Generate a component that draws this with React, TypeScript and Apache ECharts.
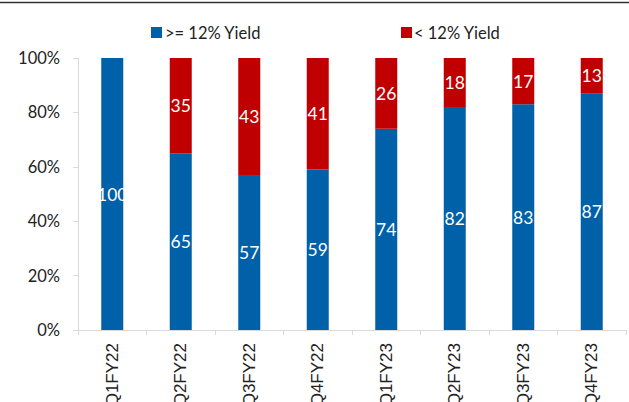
import React, { useEffect, useRef } from "react";
import * as echarts from "echarts";

const categories = ["Q1FY22", "Q2FY22", "Q3FY22", "Q4FY22", "Q1FY23", "Q2FY23", "Q3FY23", "Q4FY23"];
const highYield = [100, 65, 57, 59, 74, 82, 83, 87];
const lowYield = [0, 35, 43, 41, 26, 18, 17, 13];
const seriesNames = [">= 12% Yield", "< 12% Yield"];
const yTicks = [0, 20, 40, 60, 80, 100];

export default function App() {
  const ref = useRef<HTMLDivElement>(null);
  useEffect(() => {
    if (!ref.current) return;
    const chart = echarts.init(ref.current, undefined, { renderer: "svg" });
    const labelStyle = {
      show: true,
      position: "inside",
      color: "#ffffff",
      fontFamily: "Lato",
      fontSize: 17.5,
      formatter: (p: any) => (p.value > 0 ? String(p.value) : ""),
    };
    chart.setOption({
      animation: false,
      backgroundColor: "#ffffff",
      graphic: [
        {
          type: "line",
          shape: { x1: 0, y1: 2.5, x2: 629, y2: 2.5 },
          style: { stroke: "#333333", lineWidth: 1.5 },
        },
      ],
      legend: [
        {
          data: [seriesNames[0]],
          left: 146,
          top: 19,
          itemWidth: 11,
          itemHeight: 11,
          icon: "rect",
          textStyle: { fontFamily: "Lato", fontSize: 16.5, color: "#222222", padding: [0, 0, 0, -2] },
        },
        {
          data: [seriesNames[1]],
          left: 396,
          top: 19,
          itemWidth: 11,
          itemHeight: 11,
          icon: "rect",
          textStyle: { fontFamily: "Lato", fontSize: 16.5, color: "#222222", padding: [0, 0, 0, -3] },
        },
      ],
      grid: { left: 78, right: 3, top: 58, bottom: 72, containLabel: false, outerBoundsMode: "none" },
      xAxis: {
        type: "category",
        data: categories,
        axisLine: { lineStyle: { color: "#d9d9d9", width: 1 } },
        axisTick: { show: true, alignWithLabel: false, length: 5, lineStyle: { color: "#d9d9d9" } },
        axisLabel: {
          rotate: 90,
          margin: 13,
          fontFamily: "Liberation Sans",
          fontSize: 17,
          color: "#222222",
        },
      },
      yAxis: {
        type: "value",
        min: 0,
        max: 100,
        interval: 20,
        axisLine: { show: true, lineStyle: { color: "#d9d9d9", width: 1 } },
        axisTick: { show: true, length: 5, lineStyle: { color: "#d9d9d9" } },
        splitLine: { show: false },
        axisLabel: {
          margin: 18,
          fontFamily: "Lato",
          fontSize: 16.5,
          color: "#222222",
          formatter: (v: number) => (yTicks.includes(v) ? v + "%" : ""),
        },
      },
      series: [
        {
          name: seriesNames[0],
          type: "bar",
          stack: "total",
          data: highYield,
          barWidth: 22,
          itemStyle: { color: "#0060A8" },
          label: labelStyle,
        },
        {
          name: seriesNames[1],
          type: "bar",
          stack: "total",
          data: lowYield,
          barWidth: 22,
          itemStyle: { color: "#C00000" },
          label: labelStyle,
        },
      ],
    });
    return () => chart.dispose();
  }, []);
  return <div ref={ref} style={{ width: 629, height: 402, position: "absolute", left: 0, top: 0 }} />;
}
